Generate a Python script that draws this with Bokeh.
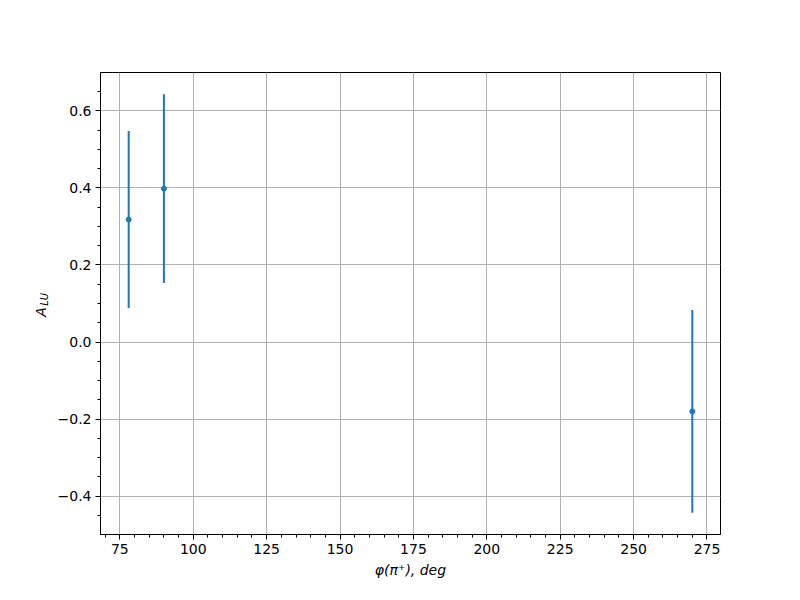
import math
from bokeh.plotting import figure
from bokeh.models import (SingleIntervalTicker, CustomJSTickFormatter, Range1d,
                          LinearAxis, FixedTicker)
from bokeh.embed import file_html
from bokeh.resources import INLINE

phi = [78, 90, 270]
alu = [0.318, 0.398, -0.180]
err = [0.230, 0.245, 0.263]

color = "#1f77b4"
font = "DejaVu Sans"

p = figure(width=784, height=584, output_backend="svg", toolbar_location=None,
           x_range=Range1d(68.4, 279.6), y_range=Range1d(-0.4995, 0.6995),
           min_border_left=100, min_border_right=64, min_border_top=72, min_border_bottom=50)

lo = [a - e for a, e in zip(alu, err)]
hi = [a + e for a, e in zip(alu, err)]
p.segment(x0=phi, y0=lo, x1=phi, y1=hi, line_color=color, line_width=2)
p.scatter(phi, alu, size=5, color=color)

p.xaxis.ticker = SingleIntervalTicker(interval=25, num_minor_ticks=5)
p.yaxis.ticker = SingleIntervalTicker(interval=0.2, num_minor_ticks=4)
p.yaxis.formatter = CustomJSTickFormatter(code="""
if (Math.abs(tick) < 1e-9) return '0.0';
return tick.toFixed(1).replace('-', '\u2212');
""")
p.xaxis.formatter = CustomJSTickFormatter(code="return tick.toFixed(0);")

for ax in (p.xaxis, p.yaxis):
    ax.major_tick_in = 0
    ax.major_tick_out = 5
    ax.minor_tick_in = 0
    ax.minor_tick_out = 3
    ax.axis_line_color = "black"
    ax.major_tick_line_color = "black"
    ax.minor_tick_line_color = "black"
    ax.major_label_text_font = font
    ax.major_label_text_font_size = "14px"
    ax.major_label_text_color = "black"
    ax.axis_label_text_font = font
    ax.axis_label_text_font_size = "14px"
    ax.axis_label_text_font_style = "italic"
    ax.axis_label_text_color = "black"

p.xaxis.axis_label = "\u03c6(\u03c0\u207a), deg"
p.xaxis.axis_label_standoff = 5
p.xaxis.major_label_standoff = 4
p.yaxis.major_label_standoff = 4

# y label: "A" on the main axis, subscript "LU" on an extra, tick-less axis
p.yaxis.axis_label = "A\u2003\u2009"
p.yaxis.axis_label_standoff = 6

sub = LinearAxis(ticker=FixedTicker(ticks=[]), axis_line_color=None,
                 major_tick_line_color=None, minor_tick_line_color=None,
                 axis_label="\u2002\u2004LU", axis_label_text_font=font,
                 axis_label_text_font_style="italic", axis_label_text_font_size="10px",
                 axis_label_text_color="black", axis_label_standoff=-20)
p.add_layout(sub, "left")

p.grid.grid_line_color = "#b0b0b0"
p.grid.grid_line_width = 1
p.outline_line_color = "black"
p.outline_line_width = 1
p.outline_line_alpha = 1

open("out.html", "w").write(file_html(p, INLINE))
